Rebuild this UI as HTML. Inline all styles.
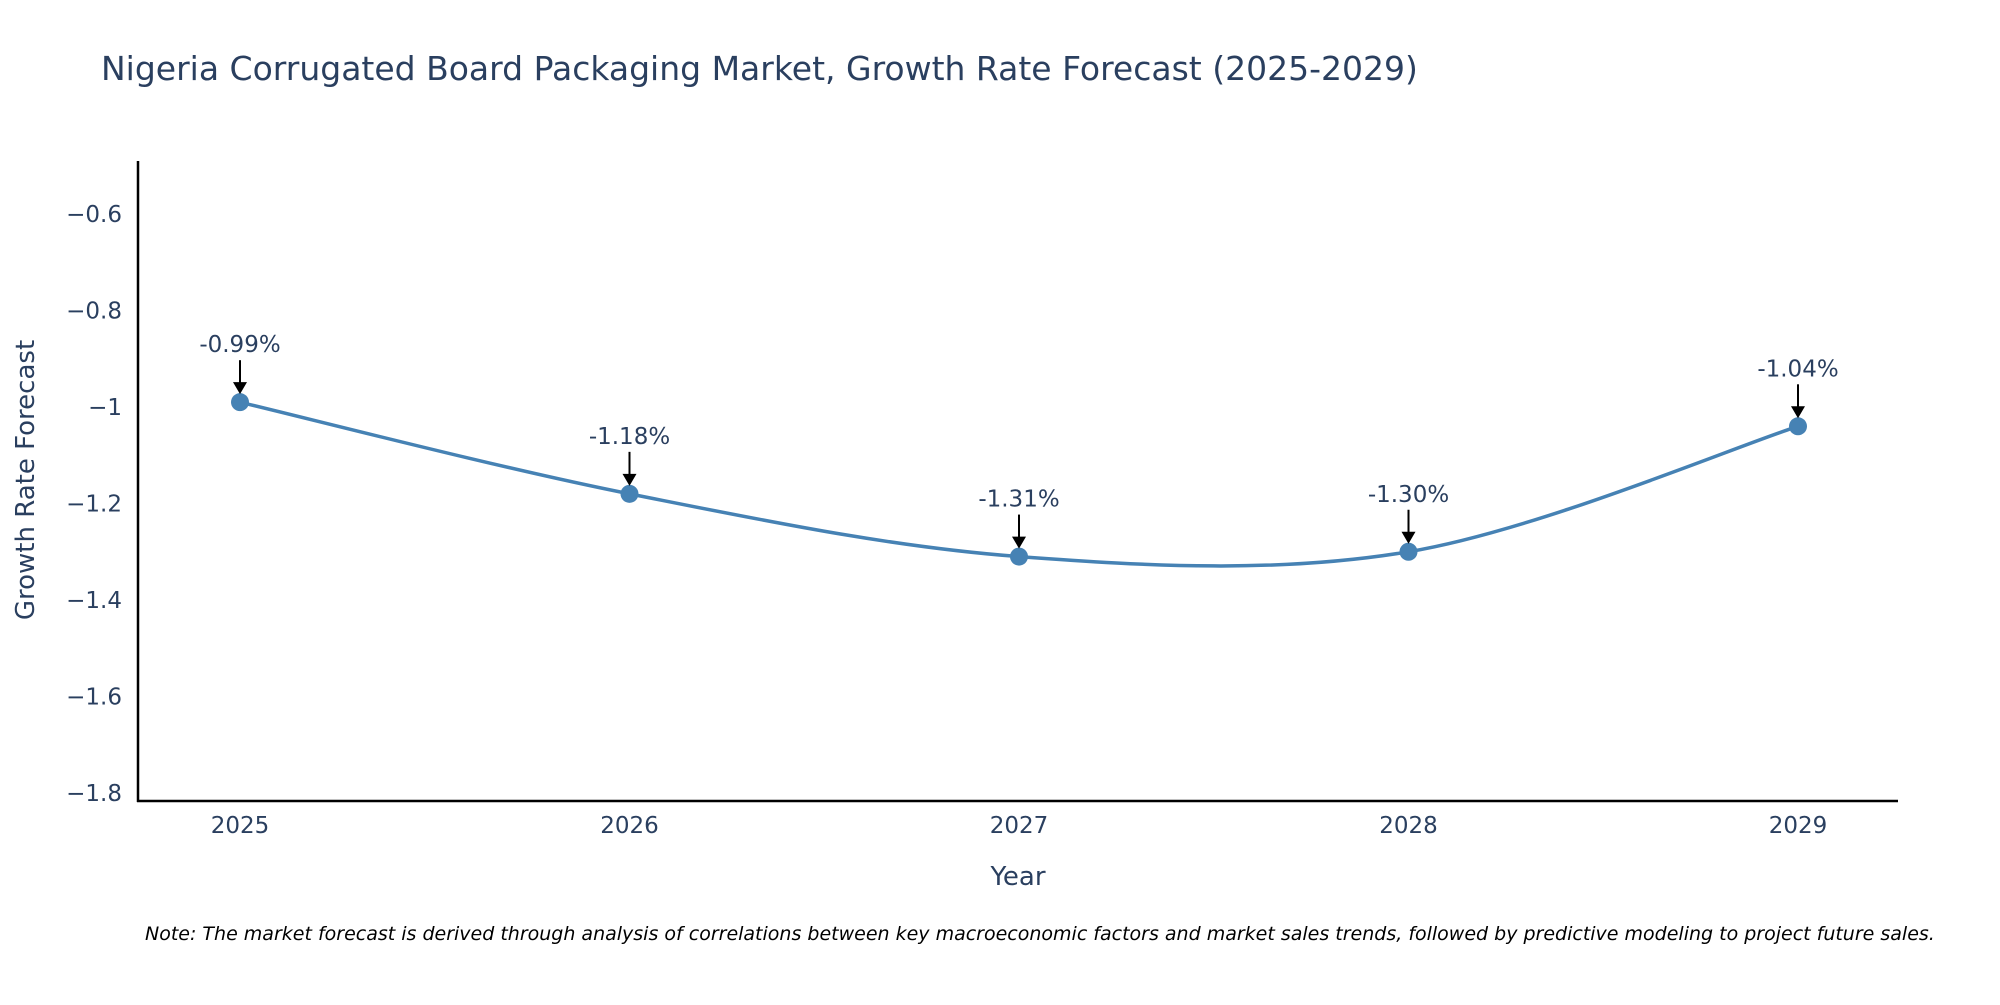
<!DOCTYPE html>
<html><head><meta charset="utf-8"><style>
body{margin:0;background:#fff;}
svg text{font-family:"DejaVu Sans","Liberation Sans",sans-serif;}
</style></head><body>
<svg id="chart" width="2000" height="1000" xmlns="http://www.w3.org/2000/svg">
<text x="101" y="80" font-size="33" fill="#2a3f5f">Nigeria Corrugated Board Packaging Market, Growth Rate Forecast (2025-2029)</text>
<g id="yticks"></g>
<g id="xticks"></g>
<line x1="138" y1="161" x2="138" y2="802" stroke="#000" stroke-width="2.5"/>
<line x1="137" y1="801" x2="1898" y2="801" stroke="#000" stroke-width="2.5"/>
<g id="series"></g>
<text x="1018" y="885" font-size="26" fill="#2a3f5f" text-anchor="middle">Year</text>
<text transform="translate(34,480) rotate(-90)" font-size="26" fill="#2a3f5f" text-anchor="middle">Growth Rate Forecast</text>
<text x="145" y="940" font-size="19" font-style="italic" fill="#000">Note: The market forecast is derived through analysis of correlations between key macroeconomic factors and market sales trends, followed by predictive modeling to project future sales.</text>
</svg>
<script>
const years = [2025, 2026, 2027, 2028, 2029];
const values = [-0.99, -1.18, -1.31, -1.30, -1.04];
const labels = ["-0.99%", "-1.18%", "-1.31%", "-1.30%", "-1.04%"];
const yTicks = [-0.6, -0.8, -1, -1.2, -1.4, -1.6, -1.8];
const yTickLabels = ["\u22120.6", "\u22120.8", "\u22121", "\u22121.2", "\u22121.4", "\u22121.6", "\u22121.8"];

const NS = "http://www.w3.org/2000/svg";
function xS(v){ return 240 + (v - 2025) * 389.5; }
function yS(v){ return 214 + (-0.6 - v) / 0.2 * 96.5; }
function mk(tag, attrs, parent){ const e = document.createElementNS(NS, tag); for (const k in attrs) e.setAttribute(k, attrs[k]); parent.appendChild(e); return e; }

const yg = document.getElementById('yticks');
yTicks.forEach((t, i) => {
  const tx = mk('text', {x: 122, y: yS(t) + 8, 'font-size': 23, fill: '#2a3f5f', 'text-anchor': 'end'}, yg);
  tx.textContent = yTickLabels[i];
  
  
});
const xg = document.getElementById('xticks');
years.forEach(y => {
  const tx = mk('text', {x: xS(y), y: 833, 'font-size': 23, fill: '#2a3f5f', 'text-anchor': 'middle'}, xg);
  tx.textContent = String(y);
  
  
});

const sg = document.getElementById('series');
const pts = years.map((y, i) => [xS(y), yS(values[i])]);
let d = `M${pts[0][0]},${pts[0][1]}`;
for (let i = 0; i < pts.length - 1; i++) {
  const p0 = pts[Math.max(0, i - 1)], p1 = pts[i], p2 = pts[i + 1], p3 = pts[Math.min(pts.length - 1, i + 2)];
  const c1 = [p1[0] + (p2[0] - p0[0]) / 6, p1[1] + (p2[1] - p0[1]) / 6];
  const c2 = [p2[0] - (p3[0] - p1[0]) / 6, p2[1] - (p3[1] - p1[1]) / 6];
  d += ` C${c1[0]},${c1[1]} ${c2[0]},${c2[1]} ${p2[0]},${p2[1]}`;
}
const line = mk('path', {d: d, fill: 'none', stroke: '#4682b4', 'stroke-width': 3.5}, sg);



pts.forEach((p, i) => {
  const c = mk('circle', {cx: p[0], cy: p[1], r: 9, fill: '#4682b4'}, sg);
  
  
  const a = mk('line', {x1: p[0], y1: p[1] - 42, x2: p[0], y2: p[1] - 18, stroke: '#000', 'stroke-width': 2}, sg);
  
  
  const h = mk('polygon', {points: `${p[0]-7},${p[1]-20} ${p[0]+7},${p[1]-20} ${p[0]},${p[1]-8}`, fill: '#000'}, sg);
  
  
  const t = mk('text', {x: p[0], y: p[1] - 50, 'font-size': 23, fill: '#2a3f5f', 'text-anchor': 'middle'}, sg);
  t.textContent = labels[i];
  
  
});
</script>
</body></html>
